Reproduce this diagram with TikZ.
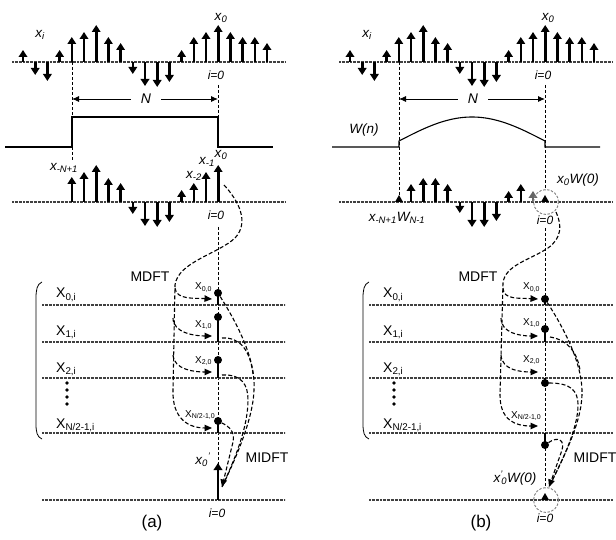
\documentclass[tikz,border=0pt]{standalone}
\usepackage{fontspec}
\setmainfont{Liberation Sans}
\usetikzlibrary{arrows.meta}
\tikzset{
  baseln/.style={line width=1.8pt, black!75, dash pattern=on 0.9pt off 0.45pt},
  stm/.style={line width=2.6pt, -{Triangle[width=8.5pt,length=7pt]}},
  vdash/.style={line width=1pt, dash pattern=on 3pt off 2pt},
  cdash/.style={line width=1.1pt, dash pattern=on 4pt off 2.2pt},
  tip/.style={-{Triangle[width=6.5pt,length=7.5pt]}},
  dotn/.style={circle, fill, inner sep=0pt, minimum size=8pt},
  thk/.style={line width=2.6pt},
  win/.style={line width=1.1pt},
  lbl/.style={inner sep=0pt, font=\fontsize{13.5}{15}\selectfont\itshape},
  big/.style={inner sep=0pt, font=\fontsize{14}{16}\selectfont},
  sml/.style={inner sep=0pt, anchor=base west, font=\fontsize{10}{12}\selectfont},
  ilbl/.style={inner sep=0pt, font=\fontsize{12}{14}\selectfont\itshape},
  captxt/.style={inner sep=0pt, font=\fontsize{17}{19}\selectfont},
  circ/.style={black!50, line width=0.9pt, dash pattern=on 2.5pt off 1.5pt},
  smdot/.style={circle, fill, inner sep=0pt, minimum size=3.8pt},
}
\newcommand{\sbs}[1]{\textsubscript{#1}}
\begin{document}
\begin{tikzpicture}[x=1pt,y=-1pt]
\useasboundingbox (0,0) rectangle (616,540);

% ================= LEFT PANEL =================
% top signal
\draw[baseln] (12,62) -- (285,62);
\foreach \k/\h in {0/12,1/-13,2/-19,3/12,4/25,5/30,6/37,7/25,8/19,9/-12,10/-24,11/-25,12/-20,13/12,14/25,15/30,16/37,17/30,18/25,19/25,20/19}{
  \pgfmathsetmacro\xx{23+12.2*\k}
  \draw[stm] (\xx,62) -- (\xx,{62-\h});
}
\node[lbl] (lxi) at (40,35) {x\sbs{i}};
\node[lbl] (lx0) at (221,18) {x\sbs{0}};
\node[ilbl] (li0a) at (216,75) {i=0};
% window
\draw[vdash] (72,62) -- (72,117);
\draw[vdash] (218,85) -- (218,117);
\draw[vdash] (72,147) -- (72,160);
\coordinate (lNa) at (72,99);
\coordinate (lNb) at (218,99);
\node[lbl, font=\fontsize{14}{16}\selectfont\itshape] (lN) at (146,99) {N};
\draw[-{Latex[length=7pt,width=6pt]}, line width=0.9pt] (lN.west) ++(-10,0) -- (lNa);
\draw[-{Latex[length=7pt,width=6pt]}, line width=0.9pt] (lN.east) ++(10,0) -- (lNb);
\draw[win] (5,147) -- (72,147) -- (72,117) -- (218,117) -- (218,147) -- (273,147);
% windowed signal
\draw[baseln] (12,202) -- (285,202);
\foreach \k/\h in {4/25,5/30,6/37,7/24,8/19,9/-12,10/-24,11/-25,12/-20,13/12,14/19,15/30,16/37}{
  \pgfmathsetmacro\xx{23+12.2*\k}
  \draw[stm] (\xx,202) -- (\xx,{202-\h});
}
\node[lbl] (lxN) at (64,168) {x\sbs{-N+1}};
\node[lbl] (lxm2) at (194,176) {x\sbs{-2}};
\node[lbl] (lxm1) at (207,162) {x\sbs{-1}};
\node[lbl] (lx0b) at (221,155) {x\sbs{0}};
\node[ilbl] (li0b) at (216,215) {i=0};
\draw[vdash] (218,227) -- (218,500);
% stack
\foreach \y in {305,342,378,433,500}{\draw[baseln] (42,\y) -- (285,\y);}
\draw[line width=0.8pt] (42,282) .. controls (37,284) and (36,290) .. (36,298) -- (36,424) .. controls (36,432) and (37,437) .. (42,439);
\node[big, anchor=base west] (lX0) at (56,298) {X\sbs{0,i}};
\node[big, anchor=base west] (lX1) at (56,335) {X\sbs{1,i}};
\node[big, anchor=base west] (lX2) at (56,372) {X\sbs{2,i}};
\node[big, anchor=base west] (lXN) at (56,428) {X\sbs{N/2-1,i}};
\foreach \y [count=\i] in {383,390,397,404}{\node[smdot] (lv\i) at (67,\y) {};}
\draw[thk] (218,305) -- (218,293);
\draw[thk] (218,342) -- (218,317);
\draw[thk] (218,378) -- (218,360);
\draw[thk] (218,433) -- (218,421);
\node[dotn] (ld0) at (218,293) {};
\node[dotn] (ld1) at (218,317) {};
\node[dotn] (ld2) at (218,360) {};
\node[dotn] (ld3) at (218,421) {};
\node[sml] (lk0) at (195,290) {X\sbs{0,0}};
\node[sml] (lk1) at (195,327) {X\sbs{1,0}};
\node[sml] (lk2) at (195,363) {X\sbs{2,0}};
\node[sml] (lk3) at (185,417) {X\sbs{N/2-1,0}};
% MDFT
\node[big] (lmdft) at (150,277) {MDFT};
\coordinate (lms) at (224,185);
\coordinate (lt0) at (212,299);
\coordinate (lt1) at (212,336);
\coordinate (lt2) at (212,372);
\coordinate (lt3) at (212,428);
\draw[cdash, tip] (lms) .. controls (238,200) and (250,222) .. (235,238) .. controls (218,254) and (178,262) .. (175,285) -- (173,390) .. controls (172,420) and (190,428) .. (lt3);
\draw[cdash, tip] (175,288) .. controls (176,300) and (195,298) .. (lt0);
\draw[cdash, tip] (173,318) .. controls (173,333) and (195,336) .. (lt1);
\draw[cdash, tip] (173,355) .. controls (174,370) and (195,372) .. (lt2);
% MIDFT
\coordinate (lme) at (222,487);
\draw[cdash] (ld0) .. controls (238,325) and (256,360) .. (254,390) .. controls (253,420) and (235,460) .. (lme);
\draw[cdash] (222,338) .. controls (240,337) and (250,350) .. (253,374);
\draw[cdash] (222,375) .. controls (242,374) and (248,385) .. (248,400) .. controls (248,430) and (232,465) .. (lme);
\draw[cdash, tip] (ld3) .. controls (230,427) and (235,432) .. (233,442) -- (lme);
\node[big] (lmidft) at (267,458) {MIDFT};
% bottom
\draw[line width=2.6pt, -{Triangle[width=8.5pt,length=7pt]}] (218,500) -- (218,463);
\node[lbl] (lx0p) at (203,460) {x\sbs{0}\textsuperscript{'}};
\node[ilbl] (li0c) at (217,513) {i=0};
\node[captxt] (la) at (152,523) {(a)};

% ================= RIGHT PANEL =================
\draw[baseln] (339,62) -- (612,62);
\foreach \k/\h in {0/12,1/-13,2/-19,3/12,4/25,5/30,6/37,7/25,8/19,9/-12,10/-24,11/-25,12/-20,13/12,14/25,15/30,16/37,17/30,18/25,19/25,20/19}{
  \pgfmathsetmacro\xx{350+12.2*\k}
  \draw[stm] (\xx,62) -- (\xx,{62-\h});
}
\node[lbl] (rxi) at (367,35) {x\sbs{i}};
\node[lbl] (rx0) at (548,18) {x\sbs{0}};
\node[ilbl] (ri0a) at (543,75) {i=0};
\draw[vdash] (399,62) -- (399,201);
\draw[vdash] (545,85) -- (545,190);
\coordinate (rNa) at (399,99);
\coordinate (rNb) at (545,99);
\node[lbl, font=\fontsize{14}{16}\selectfont\itshape] (rN) at (473,99) {N};
\draw[-{Latex[length=7pt,width=6pt]}, line width=0.9pt] (rN.west) ++(-10,0) -- (rNa);
\draw[-{Latex[length=7pt,width=6pt]}, line width=0.9pt] (rN.east) ++(10,0) -- (rNb);
\draw[win] (332,147) -- (399,147) -- (399,141)
  -- plot[domain=0:1, samples=50] ({399+146*\x},{141-24*sin(180*\x)})
  -- (545,147) -- (600,147);
\node[lbl] (rWn) at (364,130) {W(n)};
% windowed signal
\draw[baseln] (339,202) -- (612,202);
\foreach \k/\h in {5/18,6/24,7/24,8/18,9/-11,10/-25,11/-25,12/-19,13/11,14/18}{
  \pgfmathsetmacro\xx{350+12.2*\k}
  \draw[stm] (\xx,202) -- (\xx,{202-\h});
}
\draw[stm, black!60] (533,202) -- (533,191);
\fill (395,202) -- (403,202) -- (399,195) -- cycle;
\fill (541,202) -- (549,202) -- (545,195) -- cycle;
\node[circ, circle, draw, minimum size=25pt, inner sep=0pt] (rc1) at (546,202) {};
\node[lbl] (rx0W) at (578,180) {x\sbs{0}W(0)};
\node[lbl] (rxNW) at (397,218) {x\sbs{-N+1}W\sbs{N-1}};
\node[ilbl] (ri0b) at (545,220) {i=0};
\draw[vdash] (545,228) -- (545,488);
% stack
\foreach \y in {305,342,378,433,500}{\draw[baseln] (369,\y) -- (613,\y);}
\draw[line width=0.8pt] (369,282) .. controls (364,284) and (363,290) .. (363,298) -- (363,424) .. controls (363,432) and (364,437) .. (369,439);
\node[big, anchor=base west] (rX0) at (383,298) {X\sbs{0,i}};
\node[big, anchor=base west] (rX1) at (383,335) {X\sbs{1,i}};
\node[big, anchor=base west] (rX2) at (383,372) {X\sbs{2,i}};
\node[big, anchor=base west] (rXN) at (383,428) {X\sbs{N/2-1,i}};
\foreach \y [count=\i] in {383,390,397,404}{\node[smdot] (rv\i) at (394,\y) {};}
\draw[thk] (545,305) -- (545,299);
\draw[thk] (545,342) -- (545,329);
\draw[thk] (545,378) -- (545,383);
\draw[thk] (545,433) -- (545,445);
\node[dotn] (rd0) at (545,299) {};
\node[dotn] (rd1) at (545,329) {};
\node[dotn] (rd2) at (545,383) {};
\node[dotn] (rd3) at (545,445) {};
\node[sml] (rk0) at (523,290) {X\sbs{0,0}};
\node[sml] (rk1) at (523,325) {X\sbs{1,0}};
\node[sml] (rk2) at (523,362) {X\sbs{2,0}};
\node[sml] (rk3) at (511,418) {X\sbs{N/2-1,0}};
% MDFT
\node[big] (rmdft) at (478,277) {MDFT};
\coordinate (rms) at (556,212);
\coordinate (rt0) at (538,299);
\coordinate (rt1) at (538,336);
\coordinate (rt2) at (538,372);
\coordinate (rt3) at (538,426);
\draw[cdash, tip] (rms) .. controls (562,225) and (562,238) .. (548,248) .. controls (530,260) and (505,265) .. (503,283) -- (500,395) .. controls (500,420) and (515,426) .. (rt3);
\draw[cdash, tip] (503,288) .. controls (503,300) and (520,298) .. (rt0);
\draw[cdash, tip] (501,318) .. controls (501,333) and (520,336) .. (rt1);
\draw[cdash, tip] (501,355) .. controls (502,370) and (520,372) .. (rt2);
% MIDFT
\coordinate (rme) at (549,487);
\draw[cdash] (rd0) .. controls (565,330) and (583,365) .. (582,395) .. controls (581,425) and (562,460) .. (rme);
\draw[cdash] (550,337) .. controls (568,340) and (577,352) .. (580,370);
\draw[cdash] (rd2) .. controls (570,383) and (578,390) .. (578,405) .. controls (578,430) and (560,465) .. (rme);
\draw[cdash, tip] (rd3) .. controls (558,436) and (565,440) .. (562,450) -- (rme);
\node[big] (rmidft) at (595,458) {MIDFT};
% bottom
\fill (541,500) -- (549,500) -- (545,493) -- cycle;
\node[circ, circle, draw, minimum size=25pt, inner sep=0pt] (rc2) at (546,500) {};
\node[lbl] (rx0pW) at (515,478) {x\textsuperscript{'}\hspace{-0.12em}\sbs{0}W(0)};
\node[ilbl] (ri0c) at (545,518) {i=0};
\node[captxt] (rb) at (481,523) {(b)};
\end{tikzpicture}
\end{document}
